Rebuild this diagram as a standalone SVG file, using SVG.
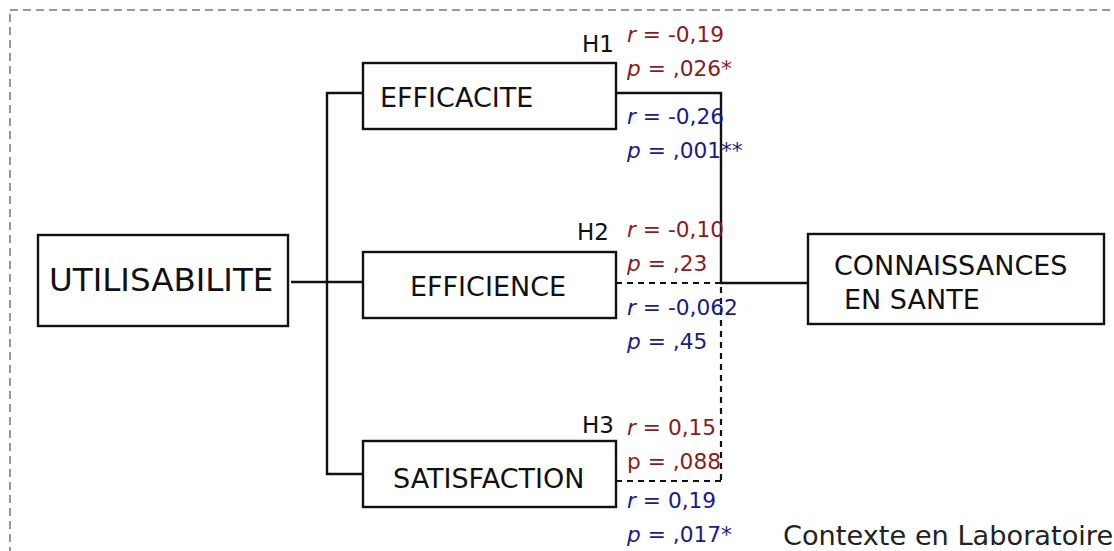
<svg xmlns="http://www.w3.org/2000/svg" width="1114" height="551" viewBox="0 0 1114 551">
<style>
text{font-family:"DejaVu Sans","Liberation Sans",sans-serif}
.box{fill:#fff;stroke:#111;stroke-width:2.4}
.lbl{font-size:27px;fill:#111}
.h{font-size:23px;fill:#111}
.st{font-size:21.7px}
.red{fill:#8b1a1a}
.blue{fill:#1a1a8b}
.i{font-style:italic}
.ln{fill:none;stroke:#111;stroke-width:2.4}
.dl{fill:none;stroke:#111;stroke-width:2.2;stroke-dasharray:6,5}
</style>
<rect x="10" y="10" width="1200" height="600" fill="none" stroke="#999" stroke-width="2" stroke-dasharray="8,5"/>
<g id="connectors">
<polyline class="ln" points="363,93 327,93 327,474 363,474"/>
<line class="ln" x1="291" y1="282" x2="363" y2="282"/>
<polyline class="ln" points="616,93 721,93 721,283 808,283"/>
<line class="dl" x1="616" y1="283" x2="721" y2="283"/>
<line class="dl" x1="721" y1="287" x2="721" y2="481"/>
<line class="dl" x1="616" y1="481" x2="721" y2="481"/>
</g>
<g id="utilisabilite">
<rect class="box" x="38" y="235" width="250" height="91"/>
<text x="49" y="291" style="font-size:32.5px;fill:#111">UTILISABILITE</text>
</g>
<g id="efficacite">
<rect class="box" x="363" y="63" width="253" height="66"/>
<text class="lbl" x="380" y="107">EFFICACITE</text>
</g>
<g id="efficience">
<rect class="box" x="363" y="252" width="253" height="66"/>
<text class="lbl" x="410" y="296">EFFICIENCE</text>
</g>
<g id="satisfaction">
<rect class="box" x="363" y="441" width="253" height="66"/>
<text class="lbl" x="393" y="488">SATISFACTION</text>
</g>
<g id="connaissances">
<rect class="box" x="808" y="234" width="296" height="90"/>
<text class="lbl" x="834" y="275">CONNAISSANCES</text>
<text class="lbl" x="844" y="309">EN SANTE</text>
</g>
<g id="stats">
<text class="h" x="582" y="52">H1</text>
<text class="h" x="577" y="240">H2</text>
<text class="h" x="582" y="433">H3</text>
<text class="st red" x="627" y="42"><tspan class="i">r</tspan> = -0,19</text>
<text class="st red" x="627" y="76"><tspan class="i">p</tspan> = ,026*</text>
<text class="st blue" x="627" y="124"><tspan class="i">r</tspan> = -0,26</text>
<text class="st blue" x="627" y="158"><tspan class="i">p</tspan> = ,001**</text>
<text class="st red" x="627" y="237"><tspan class="i">r</tspan> = -0,10</text>
<text class="st red" x="627" y="271"><tspan class="i">p</tspan> = ,23</text>
<text class="st blue" x="627" y="315"><tspan class="i">r</tspan> = -0,062</text>
<text class="st blue" x="627" y="349"><tspan class="i">p</tspan> = ,45</text>
<text class="st red" x="627" y="435"><tspan class="i">r</tspan> = 0,15</text>
<text class="st red" x="627" y="469">p = ,088</text>
<text class="st blue" x="627" y="508"><tspan class="i">r</tspan> = 0,19</text>
<text class="st blue" x="627" y="542"><tspan class="i">p</tspan> = ,017*</text>
<text x="783" y="545" style="font-size:27.2px;fill:#222">Contexte en Laboratoire</text>
</g>
</svg>
